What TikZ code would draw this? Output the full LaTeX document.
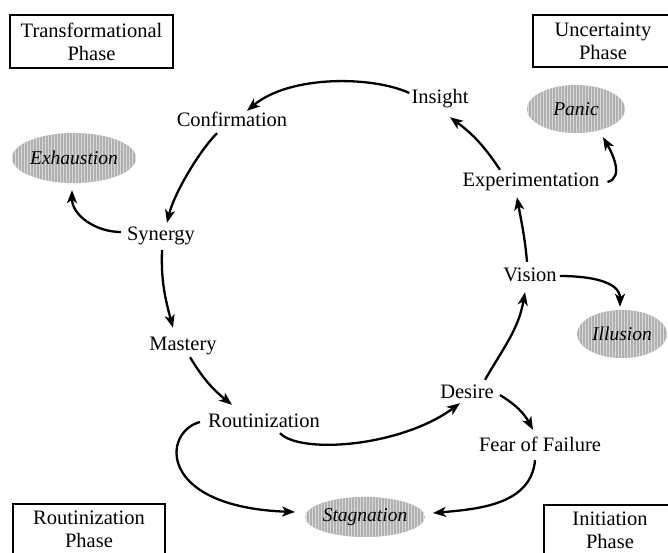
\documentclass[tikz,border=0pt]{standalone}
\usepackage{fontspec}
\setmainfont{Liberation Serif}
\usetikzlibrary{arrows.meta,shapes.geometric,patterns}

\begin{document}
\begin{tikzpicture}[x=1pt,y=1pt,
  every node/.style={font=\fontsize{20.5}{23}\selectfont},
  stage/.style={inner sep=2pt, text height=14pt, text depth=4pt},
  trap/.style={ellipse, inner sep=0pt, preaction={fill=gray!62},
    pattern=vertical lines, pattern color=gray!30,
    font=\fontsize{19.5}{22}\selectfont\itshape},
  phase/.style={draw, line width=1.6pt, align=center, inner sep=0pt},
  flow/.style={line width=2.3pt, -{Stealth[length=13pt,width=10pt,inset=3.5pt]}}
]
\useasboundingbox (0,0) rectangle (668,552);

% phase boxes in the four corners
\node[phase, minimum width=163pt, minimum height=53pt] (tphase) at (91.5,510.5) {Transformational\\Phase};
\node[phase, minimum width=140pt, minimum height=52pt] (uphase) at (603,511) {Uncertainty\\Phase};
\node[phase, minimum width=152pt, minimum height=51pt] (rphase) at (89,22.5) {Routinization\\Phase};
\node[phase, minimum width=132pt, minimum height=50pt] (iphase) at (610,22) {Initiation\\Phase};

% stages of the cycle
\node[stage] (ins)  at (440,453) {Insight};
\node[stage] (conf) at (232,430) {Confirmation};
\node[stage] (syn)  at (161,317) {Synergy};
\node[stage] (mast) at (183,207) {Mastery};
\node[stage] (rout) at (264,130) {Routinization};
\node[stage] (des)  at (467,159) {Desire};
\node[stage] (vis)  at (530,276) {Vision};
\node[stage] (exp)  at (531,370) {Experimentation};
\node[stage] (fear) at (540,106) {Fear of Failure};

% traps
\node[trap, minimum width=105pt, minimum height=50pt] (exh)   at (74,394)  {Exhaustion};
\node[trap, minimum width=98pt,  minimum height=48pt] (panic) at (576,443) {Panic};
\node[trap, minimum width=90pt,  minimum height=48pt] (illu)  at (622,218) {Illusion};
\node[trap, minimum width=100pt, minimum height=40pt] (stag)  at (365,35)  {Stagnation};

% cycle connectors
\draw[flow] ([yshift=6pt]ins.west) .. controls +(-37,17) and +(43,36) .. ([xshift=15pt]conf.north);
\draw[flow] ([xshift=-15pt]conf.south) .. controls +(-18,-18) and +(7,29) .. ([xshift=6pt,yshift=1pt]syn.north);
\draw[flow] ([xshift=-4pt,yshift=3pt]syn.west) to[out=180,in=-90] ([xshift=-2pt,yshift=-7pt]exh.south);
\draw[flow] ([xshift=1pt,yshift=-4pt]syn.south) to[out=-92,in=105] ([xshift=-10pt,yshift=6pt]mast.north);
\draw[flow] ([xshift=7pt,yshift=-1pt]mast.south) to[bend right=10] ([xshift=-32pt,yshift=6pt]rout.north);
\draw[flow] ([xshift=16pt]rout.south) .. controls +(20,-21) and +(-60,-44) .. ([xshift=-7pt,yshift=1pt]des.south);
\draw[flow] ([xshift=-6pt]rout.west) .. controls +(-38,-10) and +(-138,5) .. ([xshift=-10pt,yshift=5pt]stag.west);
\draw[flow] ([xshift=4pt,yshift=-2pt]des.east) to[bend left=15] ([xshift=-7pt,yshift=5pt]fear.north);
\draw[flow] ([xshift=-5pt,yshift=-3pt]fear.south) to[out=-95,in=5] ([xshift=8pt,yshift=4pt]stag.east);
\draw[flow] ([xshift=18pt,yshift=2pt]des.north) to[out=60,in=-100] ([xshift=-5pt,yshift=-5pt]vis.south);
\draw[flow] ([xshift=1pt]vis.east) to[out=0,in=90] ([xshift=-2pt,yshift=3pt]illu.north);
\draw[flow] ([xshift=-3pt,yshift=3pt]vis.north) to[out=95,in=-80] ([xshift=-14pt,yshift=-4pt]exp.south);
\draw[flow] ([xshift=-31pt,yshift=1pt]exp.north) to[bend right=10] ([xshift=10pt,yshift=-7pt]ins.south);
\draw[flow] ([xshift=6pt]exp.east) to[out=15,in=-60] ([xshift=27pt,yshift=-4pt]panic.south);
\end{tikzpicture}
\end{document}
